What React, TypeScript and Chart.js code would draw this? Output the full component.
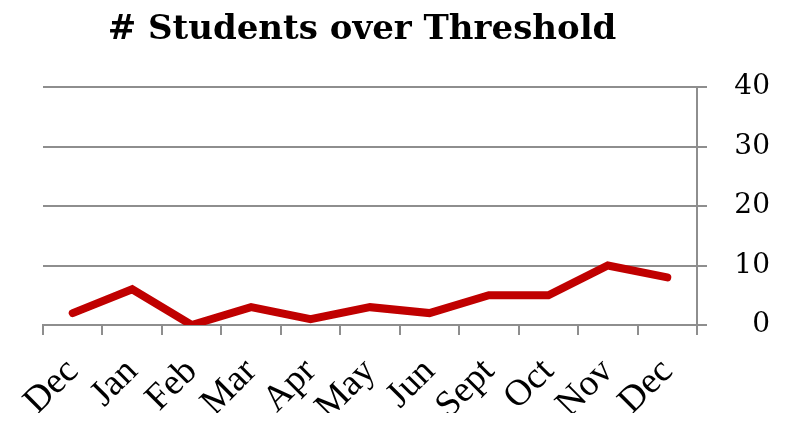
import React, { useEffect, useRef } from "react";
import { Chart, registerables } from "chart.js";
Chart.register(...registerables);

const categories = ["Dec", "Jan", "Feb", "Mar", "Apr", "May", "Jun", "Sept", "Oct", "Nov", "Dec"];
const studentsOverThreshold = [2, 6, 0, 3, 1, 3, 2, 5, 5, 10, 8];
const yTicks = [0, 10, 20, 30, 40];
const chartTitle = "# Students over Threshold";

const GRID = "#8e8e8e";

const titlePlugin = {
  id: "customTitle",
  afterDraw(chart: any) {
    const ctx = chart.ctx;
    ctx.save();
    ctx.font = "bold 34px 'DejaVu Serif'";
    ctx.fillStyle = "#000";
    ctx.textAlign = "center";
    ctx.textBaseline = "alphabetic";
    ctx.fillText(chartTitle, 354, 31);
    ctx.restore();
  },
};

export default function App() {
  const ref = useRef<HTMLCanvasElement>(null);
  useEffect(() => {
    if (!ref.current) return;
    const chart = new Chart(ref.current, {
      type: "line",
      data: {
        labels: categories,
        datasets: [
          {
            data: studentsOverThreshold,
            borderColor: "#c00000",
            backgroundColor: "#c00000",
            borderWidth: 8,
            borderCapStyle: "round",
            borderJoinStyle: "miter",
            pointRadius: 0,
            tension: 0,
            fill: false,
          },
        ],
      },
      options: {
        animation: false,
        responsive: true,
        maintainAspectRatio: false,
        layout: { padding: { left: 35, top: 79, right: 10, bottom: 0 } },
        plugins: { legend: { display: false }, title: { display: false }, tooltip: { enabled: false } },
        scales: {
          x: {
            type: "category",
            offset: true,
            grid: { offset: true, drawOnChartArea: false, drawTicks: true, tickLength: 10, color: GRID, lineWidth: 2 },
            border: { display: true, color: GRID, width: 2 },
            ticks: {
              color: "#000",
              font: { family: "'Liberation Serif'", size: 37 },
              minRotation: 45,
              maxRotation: 45,
              autoSkip: false,
              padding: 15,
            },
            afterFit(scale: any) {
              scale.height = 88;
            },
          },
          y: {
            position: "right",
            min: 0,
            max: 40,
            grid: { drawOnChartArea: true, drawTicks: true, tickLength: 10, color: GRID, lineWidth: 2 },
            border: { display: true, color: GRID, width: 2 },
            ticks: {
              color: "#000",
              font: { family: "'DejaVu Serif'", size: 28 },
              padding: 24,
              stepSize: 10,
              crossAlign: "far",
            },
            afterBuildTicks(scale: any) {
              scale.ticks = yTicks.map((v) => ({ value: v }));
            },
            afterFit(scale: any) {
              scale.width = 73;
            },
          },
        },
      },
      plugins: [titlePlugin],
    } as any);
    return () => chart.destroy();
  }, []);
  return (
    <div style={{ position: "relative", width: 772, height: 405 }}>
      <canvas ref={ref} />
    </div>
  );
}
